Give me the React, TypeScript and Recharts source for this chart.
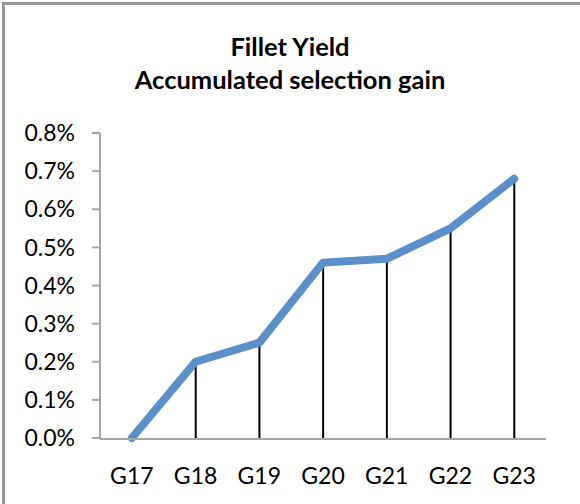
import { ComposedChart, Line, Bar, XAxis, YAxis } from "recharts";

const generations = ["G17", "G18", "G19", "G20", "G21", "G22", "G23"];
const gainPct = [0, 0.2, 0.25, 0.46, 0.47, 0.55, 0.68];
const yTicks = [0, 0.1, 0.2, 0.3, 0.4, 0.5, 0.6, 0.7, 0.8];
const boundaryTicks = [0, 1, 2, 3, 4, 5, 6, 7];

const data = generations.map((g, i) => ({ gen: g, gain: gainPct[i] }));

const font = "Lato, 'Open Sans', sans-serif";
const axisGray = "#a6a6a6";

export default function App() {
  return (
    <div
      style={{
        position: "absolute",
        left: 0,
        top: 0,
        width: 580,
        height: 504,
        background: "#fff",
        fontFamily: font,
      }}
    >
      <div
        style={{
          position: "absolute",
          left: 2,
          top: 2,
          width: 575,
          height: 510,
          borderLeft: "3px solid #999",
          borderTop: "3px solid #999",
          borderRight: "1px solid #e0e0e0",
        }}
      />
      <div
        style={{
          position: "absolute",
          top: 30,
          left: 0,
          width: 580,
          textAlign: "center",
          fontWeight: 700,
          fontSize: 25.5,
          lineHeight: "33px",
          color: "#000",
        }}
      >
        Fillet Yield
        <br />
        Accumulated selection gain
      </div>
      <ComposedChart
        width={580}
        height={504}
        data={data}
        margin={{ top: 133, right: 34, bottom: 64, left: 0 }}
        style={{ position: "absolute", left: 0, top: 0 }}
      >
        {/* category axis: labels only, tick marks come from the boundary axis */}
        <XAxis
          dataKey="gen"
          xAxisId="cat"
          axisLine={false}
          tickLine={false}
          height={1}
          tickMargin={24}
          tick={{ fill: "#000", fontSize: 23, fontFamily: font }}
        />
        <XAxis
          xAxisId="grid"
          type="number"
          domain={[0, 7]}
          ticks={boundaryTicks}
          tick={false}
          tickSize={8}
          height={1}
          axisLine={{ stroke: axisGray, strokeWidth: 2 }}
          tickLine={{ stroke: axisGray, strokeWidth: 2 }}
        />
        <YAxis
          domain={[0, 0.8]}
          ticks={yTicks}
          width={100}
          tickSize={8}
          tickMargin={17}
          tickFormatter={(v: number) => `${v.toFixed(1)}%`}
          axisLine={{ stroke: axisGray, strokeWidth: 2 }}
          tickLine={{ stroke: axisGray, strokeWidth: 2 }}
          tick={{ fill: "#000", fontSize: 23, fontFamily: font }}
          interval={0}
        />
        <Line
          xAxisId="cat"
          dataKey="gain"
          stroke="#5b8fc9"
          strokeWidth={8}
          strokeLinecap="round"
          strokeLinejoin="round"
          dot={false}
          isAnimationActive={false}
        />
        <Bar
          xAxisId="cat"
          dataKey="gain"
          barSize={2}
          fill="#000"
          isAnimationActive={false}
        />
      </ComposedChart>
    </div>
  );
}
